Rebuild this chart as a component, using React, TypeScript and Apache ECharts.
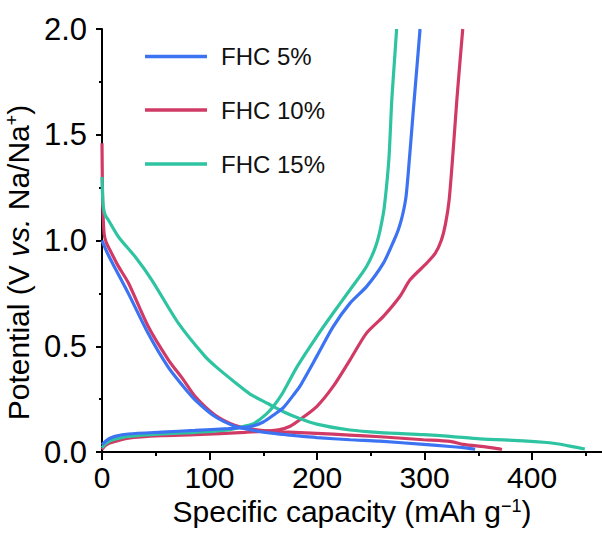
import React, { useEffect, useRef } from 'react';
import * as echarts from 'echarts';

const seriesNames = ['FHC 5%', 'FHC 10%', 'FHC 15%'];
const seriesColors = ['#3b73f2', '#d23a66', '#2ec4a2'];

const xTicks = [0, 100, 200, 300, 400];
const xMinorTicks = [50, 150, 250, 350, 450];

// FHC 5%
const discharge5 = [
  [0, 1.0], [2, 0.975], [6, 0.93], [10, 0.89], [24.5, 0.75], [43, 0.56], [61.7, 0.4],
  [75.6, 0.31], [86.5, 0.247], [105, 0.168], [124, 0.121], [137.7, 0.105], [150, 0.094],
  [168.7, 0.083], [180, 0.077], [200, 0.068], [230.7, 0.058], [258.6, 0.051], [299, 0.036],
  [323.7, 0.026], [340, 0.018], [347, 0.013],
];
const charge5 = [
  [0, 0.034], [3, 0.05], [7, 0.064], [12, 0.074], [24.5, 0.085], [55.4, 0.094], [86.5, 0.102],
  [117.5, 0.111], [137.7, 0.12], [150, 0.142], [161, 0.18], [168.7, 0.21], [179.5, 0.279],
  [184, 0.31], [199.7, 0.452], [215, 0.593], [230.7, 0.704], [246, 0.782], [261.7, 0.893],
  [271.5, 1.0], [275.5, 1.05], [278.5, 1.1], [280.8, 1.15], [282.8, 1.21], [285, 1.33],
  [289.6, 1.62], [292.8, 1.815], [295.8, 2.0],
];

// FHC 10%
const discharge10 = [
  [0, 1.46], [0.3, 1.3], [0.8, 1.15], [2, 1.03], [4, 0.99], [7.4, 0.955], [15, 0.88],
  [24.5, 0.8], [43, 0.593], [61.7, 0.436], [75.6, 0.342], [86.5, 0.263], [105, 0.175],
  [124, 0.125], [137.7, 0.11], [150, 0.101], [168.7, 0.095], [199.7, 0.088], [230, 0.08],
  [258.6, 0.072], [299, 0.058], [323.7, 0.05], [336, 0.036], [355, 0.025], [365, 0.018],
  [372, 0.012],
];
const charge10 = [
  [0, 0.011], [3, 0.03], [7, 0.042], [12, 0.05], [24.5, 0.066], [55.4, 0.077], [86.5, 0.082],
  [133, 0.093], [164, 0.105], [175, 0.122], [184, 0.153], [199.7, 0.215], [215, 0.31],
  [230.7, 0.436], [246, 0.562], [261.7, 0.641], [277, 0.735], [286.5, 0.814], [302, 0.893],
  [310, 0.94], [315.5, 1.0], [319.5, 1.08], [322.8, 1.19], [326.5, 1.42], [330, 1.664],
  [333, 1.85], [335.5, 2.0],
];

// FHC 15%
const discharge15 = [
  [0, 1.3], [0.5, 1.22], [1.2, 1.16], [3, 1.12], [5.9, 1.097], [15.2, 1.018], [30.7, 0.924],
  [46.2, 0.814], [71, 0.609], [95.8, 0.452], [106.7, 0.4], [124, 0.328], [137.7, 0.274],
  [154.7, 0.228], [168.7, 0.19], [179.5, 0.167], [199.7, 0.132], [230.7, 0.104],
  [258.6, 0.092], [299, 0.082], [323.7, 0.074], [351.6, 0.062], [392, 0.053], [413.7, 0.045],
  [423, 0.039], [435, 0.028], [449, 0.014],
];
const charge15 = [
  [0, 0.02], [3, 0.038], [7, 0.052], [12, 0.061], [24.5, 0.074], [55.4, 0.086], [86.5, 0.093],
  [117.5, 0.105], [135, 0.125], [142, 0.137], [153, 0.18], [160, 0.22], [168, 0.279],
  [181.5, 0.404], [199.7, 0.546], [215, 0.657], [230.7, 0.767], [246, 0.877], [255.5, 0.987],
  [261.7, 1.129], [264.5, 1.25], [267, 1.4], [269.5, 1.664], [272, 1.85], [274, 2.0],
];

const curves = [
  { idx: 1, data: discharge10 },
  { idx: 1, data: charge10 },
  { idx: 2, data: discharge15 },
  { idx: 2, data: charge15 },
  { idx: 0, data: discharge5 },
  { idx: 0, data: charge5 },
];

const FONT = 'Liberation Sans, Arial, Helvetica, sans-serif';

export default function App() {
  const ref = useRef<HTMLDivElement>(null);
  useEffect(() => {
    if (!ref.current) return;
    const chart = echarts.init(ref.current, undefined, { renderer: 'svg' });
    const legendTops = [44.5, 98, 152];
    chart.setOption({
      animation: false,
      backgroundColor: '#ffffff',
      grid: { left: 102, right: 0, top: 29, bottom: 81, containLabel: false, outerBoundsMode: 'none' },
      legend: seriesNames.map((n, i) => ({
        data: [n],
        left: 145,
        top: legendTops[i],
        padding: 0,
        icon: 'rect',
        itemWidth: 62,
        itemHeight: 3.5,
        selectedMode: false,
        textStyle: { fontSize: 24, fontFamily: FONT, color: '#111', padding: [0, 0, 0, 9] },
      })),
      xAxis: [
        {
          type: 'value',
          min: 0,
          max: 465,
          name: 'Specific capacity (mAh g{sup|−1})',
          nameLocation: 'middle',
          nameGap: 40,
          nameTextStyle: {
            fontSize: 30,
            fontFamily: FONT,
            color: '#000',
            rich: { sup: { fontSize: 18, fontFamily: FONT, color: '#000', verticalAlign: 'top', padding: [0, 0, 10, 0] } },
          },
          splitLine: { show: false },
          axisLine: { show: true, lineStyle: { color: '#000', width: 2 } },
          axisTick: { show: true, length: 8, lineStyle: { color: '#000', width: 2 }, customValues: xTicks },
          axisLabel: { customValues: xTicks, fontSize: 30, fontFamily: FONT, color: '#000', margin: 10 },
        },
        {
          type: 'value',
          min: 0,
          max: 465,
          position: 'bottom',
          splitLine: { show: false },
          axisLine: { show: false },
          axisTick: { show: true, length: 4, lineStyle: { color: '#000', width: 2 }, customValues: xMinorTicks },
          axisLabel: { show: false },
        },
      ],
      yAxis: {
        type: 'value',
        min: 0,
        max: 2,
        interval: 0.5,
        name: 'Potential (V {i|vs.} Na/Na{sup|+})',
        nameLocation: 'middle',
        nameGap: 60,
        nameTextStyle: {
          fontSize: 30,
          fontFamily: FONT,
          color: '#000',
          padding: [0, 44, 0, 0],
          rich: {
            i: { fontSize: 30, fontFamily: FONT, fontStyle: 'italic', color: '#000' },
            sup: { fontSize: 18, fontFamily: FONT, color: '#000', verticalAlign: 'top', padding: [0, 0, 10, 0] },
          },
        },
        splitLine: { show: false },
        axisLine: { show: true, lineStyle: { color: '#000', width: 2 } },
        axisTick: { show: true, length: 6, lineStyle: { color: '#000', width: 2 } },
        minorTick: { show: true, splitNumber: 2, length: 3, lineStyle: { color: '#000', width: 2 } },
        axisLabel: {
          fontSize: 31,
          fontFamily: FONT,
          color: '#000',
          margin: 15,
          formatter: (v: number) => v.toFixed(1),
        },
      },
      series: curves.map((c) => ({
        type: 'line',
        name: seriesNames[c.idx],
        data: c.data,
        showSymbol: false,
        symbol: 'none',
        smooth: 0.25,
        clip: true,
        lineStyle: { width: 3.2, color: seriesColors[c.idx] },
        itemStyle: { color: seriesColors[c.idx] },
      })),
    });
    return () => chart.dispose();
  }, []);
  return <div ref={ref} style={{ position: 'fixed', left: 0, top: 0, width: 602, height: 533 }} />;
}
